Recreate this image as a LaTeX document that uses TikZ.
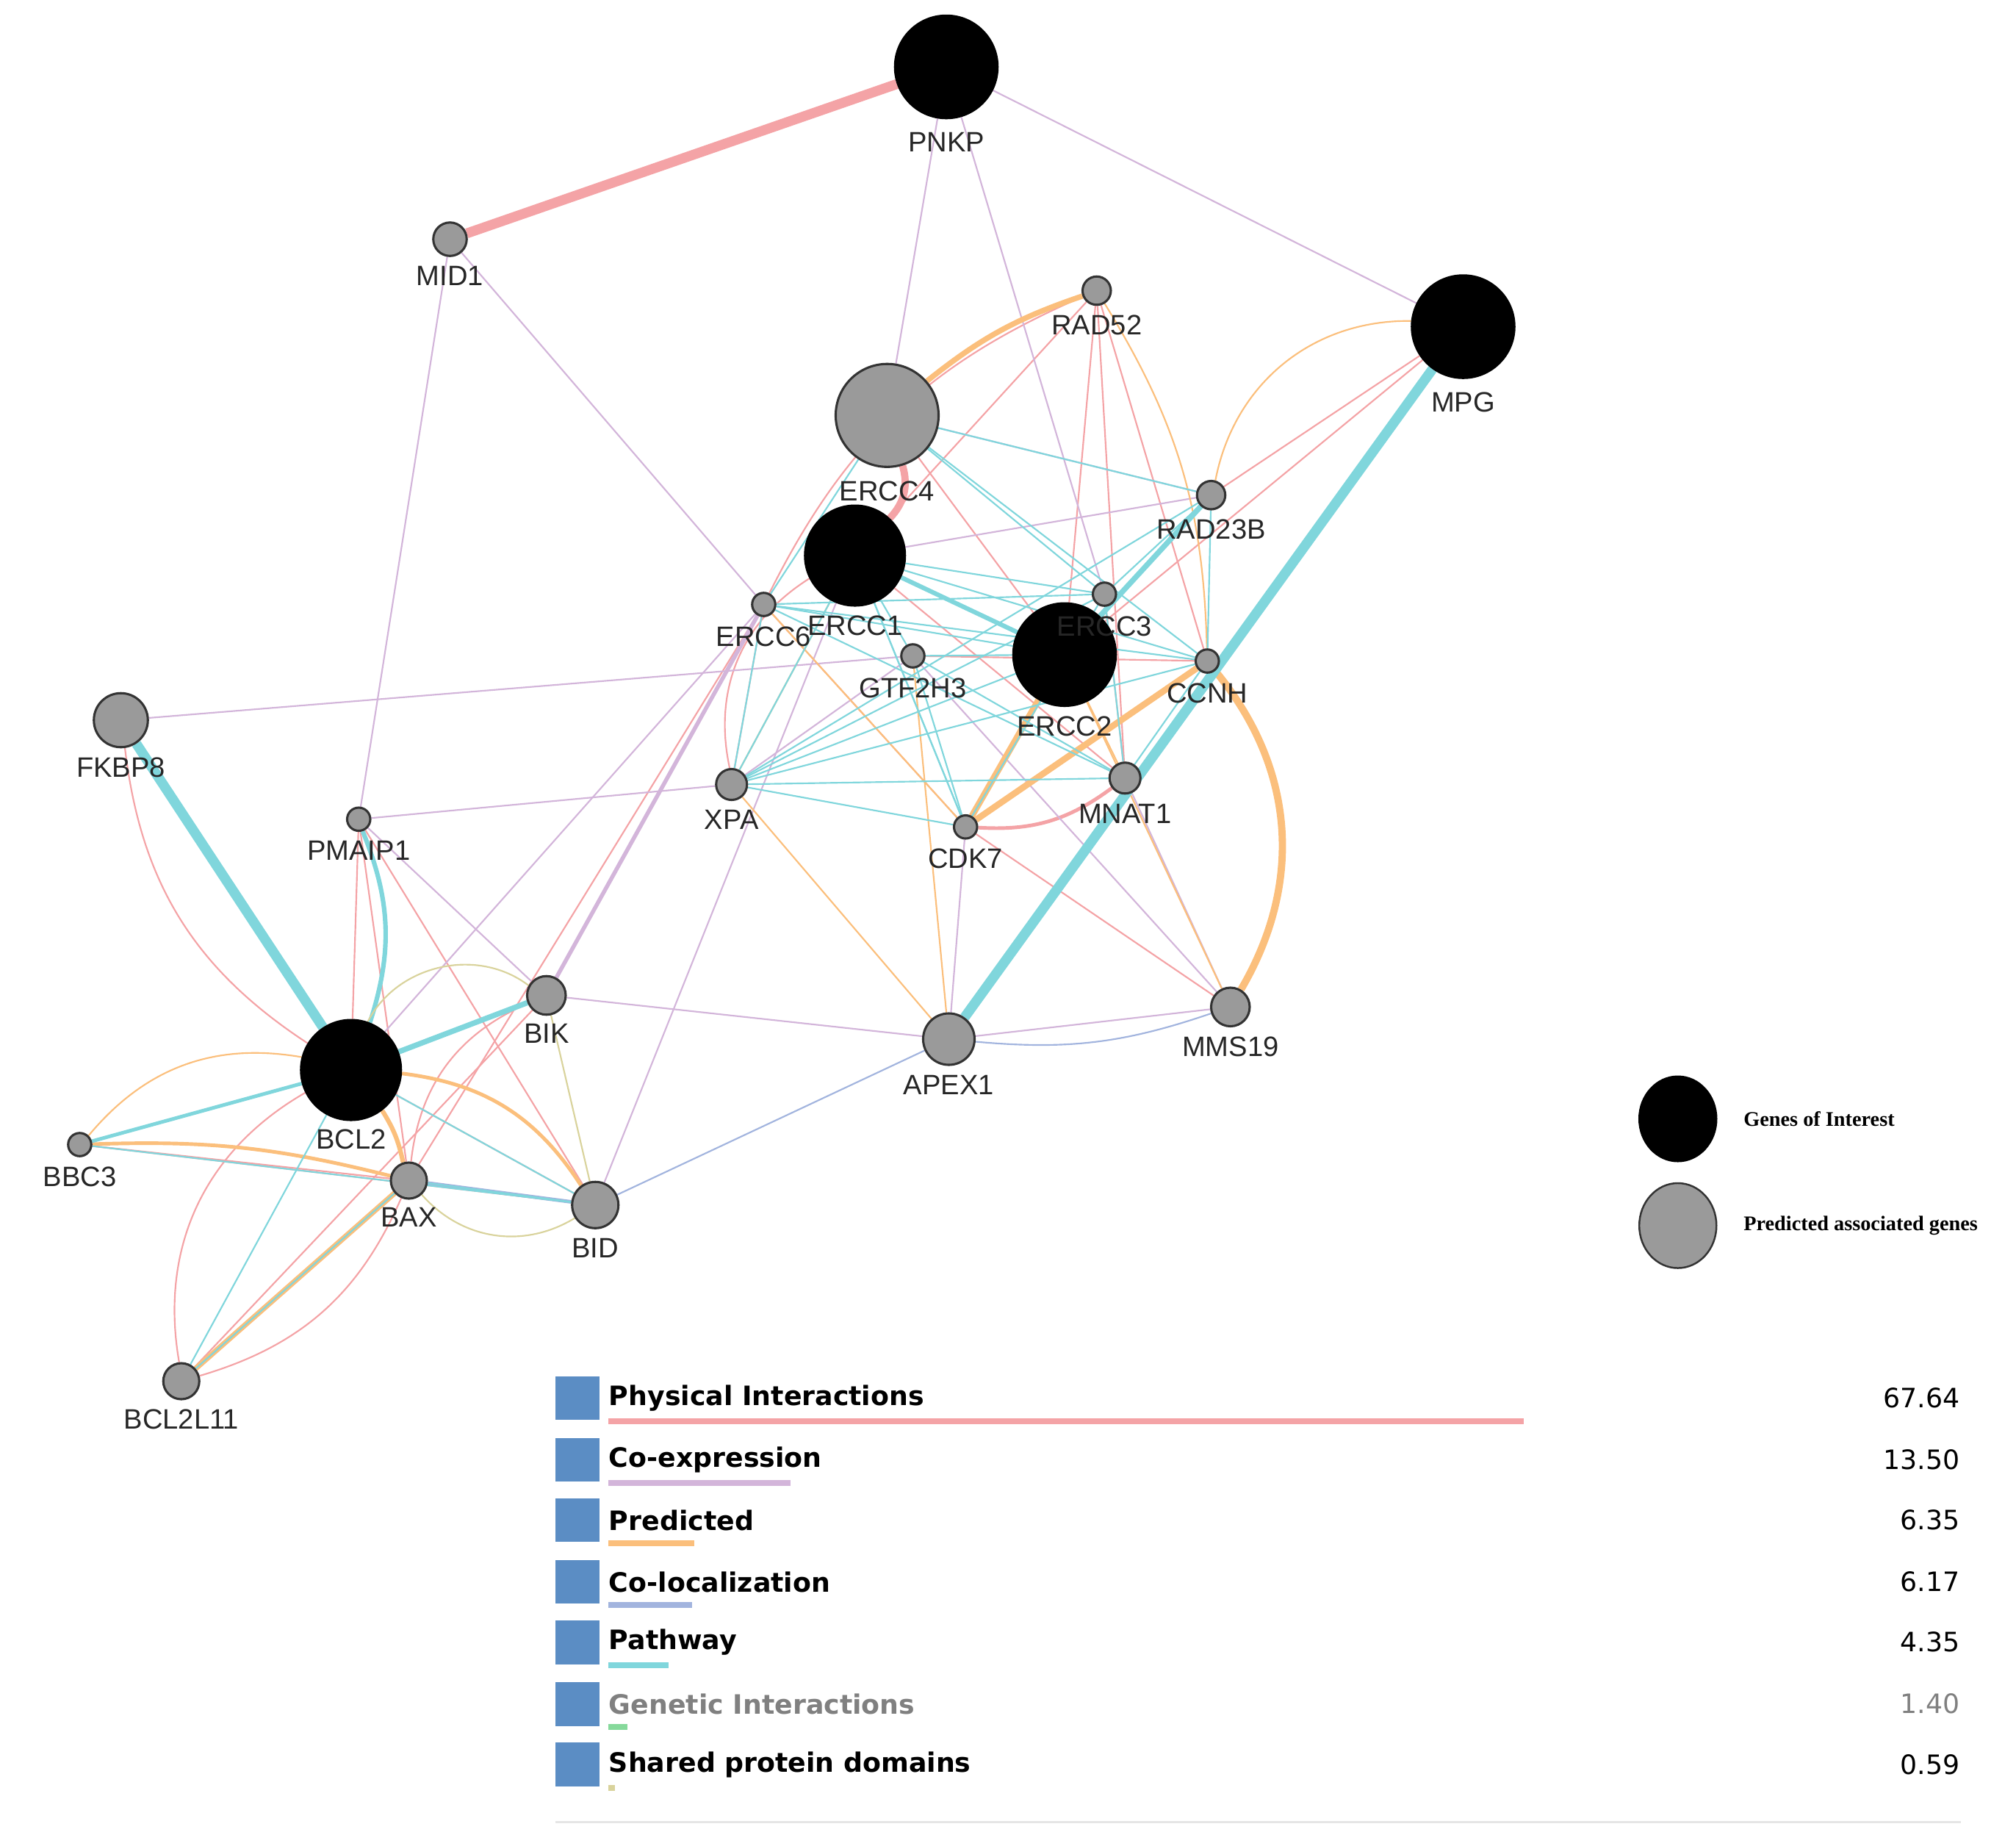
\documentclass[tikz,border=0pt]{standalone}
\usepackage{fontspec}
\setmainfont{Liberation Sans}
\newfontfamily\legserif{Liberation Serif}
\newfontfamily\legsans{DejaVu Sans}
\usetikzlibrary{positioning,backgrounds,shapes.geometric}
\definecolor{phys}{HTML}{F4A3A6}
\definecolor{coex}{HTML}{D3B5DA}
\definecolor{pred}{HTML}{FBBF7C}
\definecolor{coloc}{HTML}{A2B4DE}
\definecolor{pathw}{HTML}{80D6DC}
\definecolor{genet}{HTML}{86D99B}
\definecolor{shdom}{HTML}{D9D39C}
\definecolor{legblue}{HTML}{5B8DC4}
\definecolor{nodegray}{HTML}{9A9A9A}

\tikzset{
  goi/.style={circle,fill=black,draw=black,inner sep=0pt,minimum size=#1},
  pag/.style={circle,fill=nodegray,draw=black!80,line width=0.5pt,inner sep=0pt,minimum size=#1},
  lab/.style={font=\fontsize{6.2}{7}\selectfont,text=black!85,inner sep=1pt},
  e/.style={line width=0.35pt},
  ephys/.style={e,draw=phys},
  ecoex/.style={e,draw=coex},
  epred/.style={e,draw=pred},
  ecoloc/.style={e,draw=coloc},
  epath/.style={e,draw=pathw},
  eshd/.style={e,draw=shdom},
  legtxt/.style={font=\legsans\bfseries\fontsize{5.9}{7}\selectfont,anchor=west,inner sep=0pt},
}

\begin{document}
\begin{tikzpicture}[x=0.01cm,y=-0.01cm]
\useasboundingbox (0,0) rectangle (1568,1435);

% genes
\node[goi=80*0.2845pt] (PNKP) at (736,52) {};
\node[pag=26*0.2845pt] (MID1) at (350,186) {};
\node[pag=22*0.2845pt] (RAD52) at (853,226) {};
\node[goi=80*0.2845pt] (MPG) at (1138,254) {};
\node[pag=80*0.2845pt] (ERCC4) at (690,323) {};
\node[pag=22*0.2845pt] (RAD23B) at (942,385) {};
\node[pag=18*0.2845pt] (ERCC6) at (594,470) {};
\node[pag=18*0.2845pt] (ERCC3) at (859,462) {};
\node[pag=18*0.2845pt] (GTF2H3) at (710,510) {};
\node[pag=18*0.2845pt] (CCNH) at (939,514) {};
\node[pag=42*0.2845pt] (FKBP8) at (94,560) {};
\node[pag=24*0.2845pt] (XPA) at (569,610) {};
\node[pag=24*0.2845pt] (MNAT1) at (875,605) {};
\node[pag=18*0.2845pt] (PMAIP1) at (279,637) {};
\node[pag=18*0.2845pt] (CDK7) at (751,643) {};
\node[pag=30*0.2845pt] (BIK) at (425,774) {};
\node[pag=30*0.2845pt] (MMS19) at (957,783) {};
\node[pag=40*0.2845pt] (APEX1) at (738,808) {};
\node[goi=78*0.2845pt] (ERCC1) at (665,432) {};
\node[goi=80*0.2845pt] (ERCC2) at (828,509) {};
\node[goi=78*0.2845pt] (BCL2) at (273,832) {};
\node[pag=18*0.2845pt] (BBC3) at (62,890) {};
\node[pag=28*0.2845pt] (BAX) at (318,918) {};
\node[pag=36*0.2845pt] (BID) at (463,937) {};
\node[pag=28*0.2845pt] (BCL2L11) at (141,1074) {};

\foreach \g/\d in {PNKP/6,MID1/3,RAD52/3,MPG/6,ERCC4/6,RAD23B/3,ERCC6/3,ERCC3/3,
  GTF2H3/3,CCNH/3,FKBP8/3,XPA/3,MNAT1/3,PMAIP1/3,CDK7/3,BIK/2,MMS19/3,APEX1/3,
  ERCC1/3,ERCC2/3,BCL2/2,BBC3/3,BAX/2,BID/3,BCL2L11/3}
  \node[lab,below=\d*0.2845pt of \g] {\g};

\begin{pgfonlayer}{background}
% physical interactions
\draw[ephys,line width=2.2pt] (MID1) -- (PNKP);
\draw[ephys,line width=1.6pt] (ERCC4) to[bend left=30] (ERCC1);
\foreach \a/\b in {RAD52/ERCC1,RAD52/MNAT1,RAD52/CCNH,RAD52/ERCC2,MPG/ERCC2,MPG/RAD23B,
  ERCC4/ERCC2,ERCC6/XPA,ERCC6/CDK7,GTF2H3/CCNH,CDK7/MMS19,ERCC3/MNAT1,ERCC1/MNAT1,
  BCL2/PMAIP1,BBC3/BID,BBC3/BAX,BCL2L11/BIK,BAX/PMAIP1,BAX/ERCC6,BCL2/BID,BID/PMAIP1}
  \draw[ephys] (\a) -- (\b);
\draw[ephys,line width=0.8pt] (CDK7) to[bend right=20] (MNAT1);
\draw[ephys] (BCL2) to[bend left=25] (FKBP8);
\draw[ephys] (BCL2L11) to[bend left=35] (BCL2);
\draw[ephys] (BCL2L11) to[bend right=25] (BAX);
\draw[ephys] (ERCC1) to[bend right=35] (XPA);
\draw[ephys] (BAX) to[bend left=30] (BIK);
\draw[ephys] (RAD52) to[bend right=20] (ERCC6);
% co-expression
\foreach \a/\b in {PNKP/MPG,PNKP/ERCC4,PNKP/ERCC3,MID1/PMAIP1,MID1/ERCC6,FKBP8/GTF2H3,
  PMAIP1/XPA,PMAIP1/BIK,BIK/APEX1,APEX1/MMS19,BID/ERCC1,BCL2/ERCC6,MNAT1/MMS19,
  APEX1/CDK7,ERCC4/RAD23B,ERCC1/RAD23B,GTF2H3/MMS19,XPA/GTF2H3}
  \draw[ecoex] (\a) -- (\b);
\draw[ecoex,line width=0.9pt] (BIK) -- (ERCC6);
% predicted
\draw[epred,line width=1.6pt] (CCNH) to[bend left=35] (MMS19);
\draw[epred,line width=1.2pt] (RAD52) to[bend right=10] (ERCC4);
\draw[epred,line width=1.4pt] (CDK7) -- (ERCC2);
\draw[epred,line width=1.4pt] (CDK7) -- (CCNH);
\draw[epred,line width=1.2pt] (BAX) -- (BCL2L11);
\draw[epred,line width=1.0pt] (BAX) to[bend right=10] (BCL2);
\draw[epred] (MPG) to[bend right=40] (RAD23B);
\draw[epred] (RAD52) to[bend left=15] (CCNH);
\draw[epred] (BCL2) to[bend right=30] (BBC3);
\draw[epred,line width=0.8pt] (BBC3) to[bend left=8] (BAX);
\draw[epred,line width=0.8pt] (BCL2) to[bend left=25] (BID);
\foreach \a/\b in {APEX1/XPA,ERCC2/MMS19,CDK7/ERCC6,MNAT1/ERCC2,XPA/ERCC1,APEX1/GTF2H3}
  \draw[epred] (\a) -- (\b);
% co-localization
\draw[ecoloc] (APEX1) -- (BID);
\draw[ecoloc] (APEX1) to[bend right=12] (MMS19);
\draw[ecoloc,line width=0.8pt] (BAX) -- (BID);
% pathway
\draw[epath,line width=2.2pt] (MPG) -- (APEX1);
\draw[epath,line width=2.2pt] (FKBP8) -- (BCL2);
\draw[epath,line width=1.2pt] (BCL2) -- (BIK);
\draw[epath,line width=0.8pt] (BCL2) -- (BBC3);
\draw[epath,line width=1.0pt] (PMAIP1) to[bend left=20] (BCL2);
\draw[epath,line width=1.2pt] (ERCC2) -- (RAD23B);
\draw[epath,line width=1.0pt] (ERCC1) -- (ERCC2);
\foreach \a/\b in {BCL2L11/BCL2,BCL2L11/BAX,BAX/BID,BCL2/BID,BBC3/BID,
  XPA/ERCC1,XPA/ERCC2,XPA/CDK7,XPA/MNAT1,XPA/CCNH,XPA/ERCC3,XPA/RAD23B,XPA/ERCC6,
  ERCC4/RAD23B,ERCC4/ERCC3,ERCC4/CCNH,ERCC4/ERCC6,ERCC6/ERCC2,ERCC6/CCNH,ERCC6/ERCC3,
  GTF2H3/ERCC2,GTF2H3/MNAT1,GTF2H3/CDK7,GTF2H3/ERCC1,ERCC1/CCNH,ERCC1/ERCC3,ERCC1/CDK7,
  MNAT1/CCNH,MNAT1/ERCC3,CDK7/ERCC3,RAD23B/CCNH,RAD23B/ERCC3,CDK7/ERCC1,MNAT1/ERCC6}
  \draw[epath] (\a) -- (\b);
% shared protein domains
\draw[eshd] (BIK) -- (BID);
\draw[eshd] (BAX) to[bend right=40] (BID);
\draw[eshd] (BCL2) to[bend left=50] (BIK);
\end{pgfonlayer}

% legend of node kinds
\node[ellipse,fill=black,draw=black,inner sep=0pt,minimum width=60*0.2845pt,minimum height=66*0.2845pt] (goileg) at (1305,870) {};
\node[ellipse,fill=nodegray,draw=black!80,inner sep=0pt,minimum width=60*0.2845pt,minimum height=66*0.2845pt] (pagleg) at (1305,953) {};
\node[font=\legserif\bfseries\fontsize{4.6}{5}\selectfont,right=8*0.2845pt of goileg] {Genes of Interest};
\node[font=\legserif\bfseries\fontsize{4.6}{5}\selectfont,right=8*0.2845pt of pagleg] {Predicted associated genes};

% legend of network kinds
\foreach \t/\v/\c/\w/\y/\tc in {Physical Interactions/67.64/phys/1185/1087/black,
  Co-expression/13.50/coex/615/1135/black,Predicted/6.35/pred/540/1182/black,
  Co-localization/6.17/coloc/538/1230/black,Pathway/4.35/pathw/520/1277/black,
  Genetic Interactions/1.40/genet/488/1325/gray,Shared protein domains/0.59/shdom/478/1372/black}{
  \fill[legblue] (432,\y-17) rectangle (466,\y+17);
  \draw[\c,line width=1.3pt] (473,\y+18) -- (\w,\y+18);
  \node[legtxt,text=\tc] at (473,\y) {\t};
  \node[legtxt,text=\tc,font=\legsans\fontsize{5.9}{7}\selectfont,anchor=east] at (1525,\y) {\v};
}
\draw[black!10,line width=0.5pt] (432,1417) -- (1525,1417);
\end{tikzpicture}
\end{document}
